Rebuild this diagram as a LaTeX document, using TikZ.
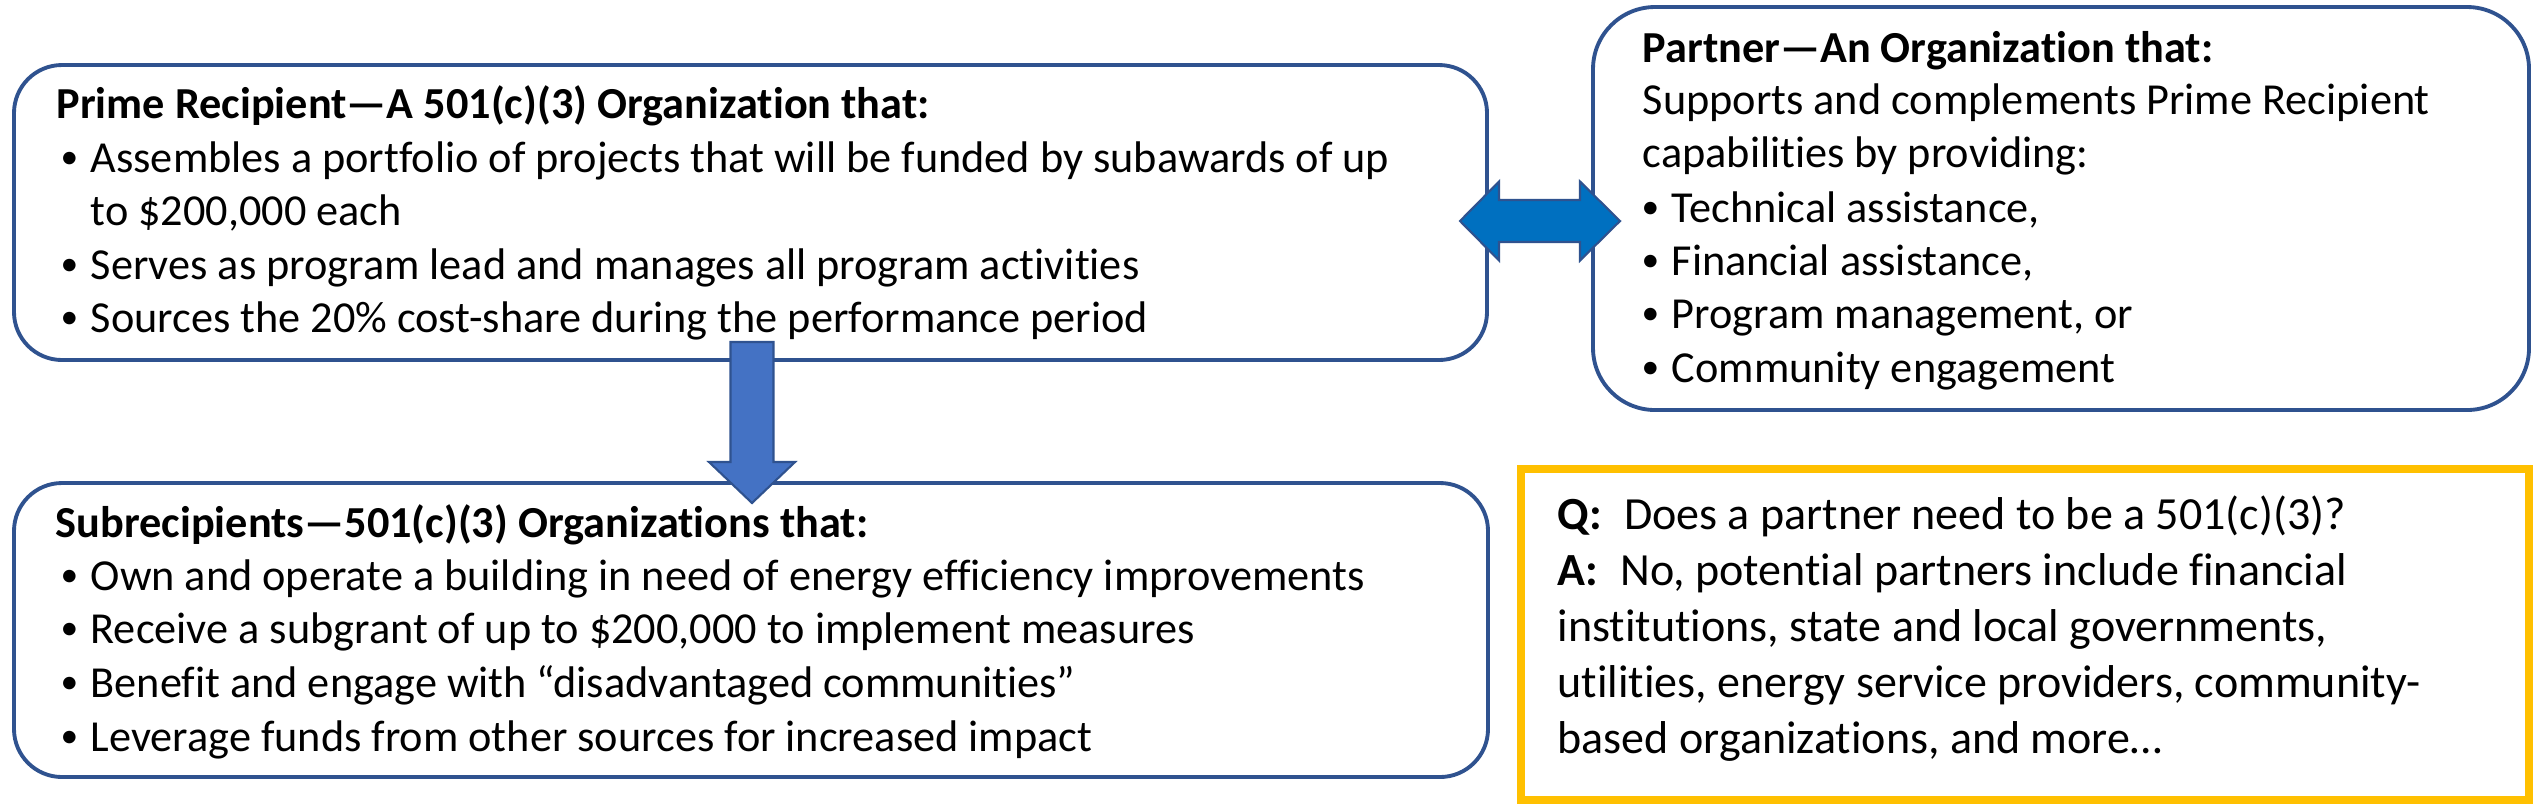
\documentclass[tikz,border=0pt]{standalone}
\usepackage{graphicx}
\usepackage{fontspec}
\setmainfont{Carlito}[Ligatures={TeX,NoCommon}]
\definecolor{boxblue}{HTML}{2F528F}
\definecolor{arrblue}{HTML}{4472C4}
\definecolor{dblblue}{HTML}{0070C0}
\definecolor{gold}{HTML}{FFC000}
\newcommand{\itm}[1]{\makebox[0.30cm][l]{\raisebox{0.07em}{\scalebox{0.8}{\textbullet}}}#1}
\begin{document}
\begin{tikzpicture}[x=1cm,y=1cm,
  box/.style={draw=boxblue, line width=1.1pt, fill=white},
  txt/.style={anchor=base west, inner sep=0pt, font=\fontsize{12.6pt}{15pt}\selectfont},
  qtxt/.style={anchor=base west, inner sep=0pt, font=\fontsize{13.1pt}{16pt}\selectfont},
  blockarrow/.style={draw=boxblue, line width=0.6pt, line join=miter}]
\useasboundingbox (0,0) rectangle (25.41,-8.10);
\fill[white] (0,0) rectangle (25.41,-8.10);

% boxes
\draw[box, rounded corners=0.48cm] (0.14,-0.65) rectangle (14.87,-3.60);
\draw[box, rounded corners=0.62cm] (15.93,-0.07) rectangle (25.29,-4.10);
\draw[box, rounded corners=0.48cm] (0.14,-4.83) rectangle (14.88,-7.77);
\draw[draw=gold, line width=0.08cm] (15.21,-4.69) rectangle (25.29,-8.00);

% down arrow
\filldraw[blockarrow, fill=arrblue] (7.305,-3.42) -- (7.735,-3.42) -- (7.735,-4.62) -- (7.95,-4.62)
  -- (7.52,-5.03) -- (7.09,-4.62) -- (7.305,-4.62) -- cycle;

% double arrow
\filldraw[blockarrow, fill=dblblue] (14.60,-2.21) -- (14.99,-1.815) -- (14.99,-2.00)
  -- (15.80,-2.00) -- (15.80,-1.815) -- (16.20,-2.21) -- (15.80,-2.605) -- (15.80,-2.42)
  -- (14.99,-2.42) -- (14.99,-2.605) -- cycle;

% prime recipient
\node[txt] (p0) at (0.56,-1.185) {\textbf{Prime Recipient—A 501(c)(3) Organization that:}};
\node[txt] (p1) at (0.60,-1.72) {\itm{Assembles a portfolio of projects that will be funded by subawards of up}};
\node[txt] (p2) at (0.90,-2.255) {to \$200,000 each};
\node[txt] (p3) at (0.60,-2.79) {\itm{Serves as program lead and manages all program activities}};
\node[txt] (p4) at (0.60,-3.32) {\itm{Sources the 20\% cost-share during the performance period}};

% partner
\node[txt] (r0) at (16.42,-0.62) {\textbf{Partner—An Organization that:}};
\node[txt] (r1) at (16.42,-1.14) {Supports and complements Prime Recipient};
\node[txt] (r2) at (16.42,-1.67) {capabilities by providing:};
\node[txt] (r3) at (16.41,-2.22) {\itm{Technical assistance,}};
\node[txt] (r4) at (16.41,-2.75) {\itm{Financial assistance,}};
\node[txt] (r5) at (16.41,-3.28) {\itm{Program management, or}};
\node[txt] (r6) at (16.41,-3.82) {\itm{Community engagement}};

% subrecipients
\node[txt] (s0) at (0.55,-5.37) {\textbf{Subrecipients—501(c)(3) Organizations that:}};
\node[txt] (s1) at (0.60,-5.90) {\itm{Own and operate a building in need of energy efficiency improvements}};
\node[txt] (s2) at (0.60,-6.43) {\itm{Receive a subgrant of up to \$200,000 to implement measures}};
\node[txt] (s3) at (0.60,-6.97) {\itm{Benefit and engage with “disadvantaged communities”}};
\node[txt] (s4) at (0.60,-7.51) {\itm{Leverage funds from other sources for increased impact}};

% Q and A
\node[qtxt] (q0) at (15.57,-5.29) {\textbf{Q:}\hspace{0.22cm}Does a partner need to be a 501(c)(3)?};
\node[qtxt] (q1) at (15.57,-5.85) {\textbf{A:}\hspace{0.22cm}No, potential partners include financial};
\node[qtxt] (q2) at (15.57,-6.41) {institutions, state and local governments,};
\node[qtxt] (q3) at (15.57,-6.97) {utilities, energy service providers, community-};
\node[qtxt] (q4) at (15.57,-7.53) {based organizations, and more…};
\end{tikzpicture}
\end{document}
